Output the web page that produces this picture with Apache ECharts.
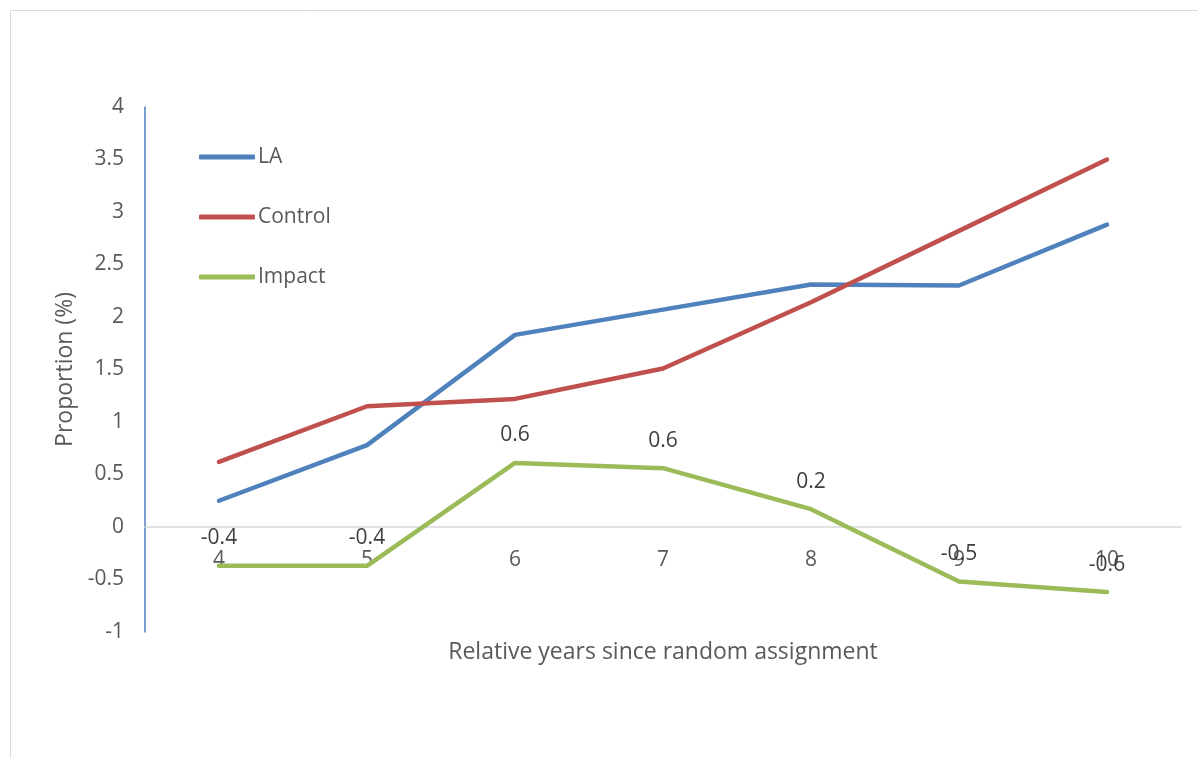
<!DOCTYPE html>
<html>
<head>
<meta charset="utf-8">
<script src="https://cdn.jsdelivr.net/npm/echarts@6/dist/echarts.min.js"></script>
<style>
  html, body { margin: 0; padding: 0; background: #fff; }
  #chart { width: 1198px; height: 758px; }
</style>
</head>
<body>
<div id="chart"></div>
<script>
// Years since random assignment
const years = ['4', '5', '6', '7', '8', '9', '10'];
// Proportion (%) by group
const laValues = [0.25, 0.78, 1.83, 2.07, 2.31, 2.30, 2.88];
const controlValues = [0.62, 1.15, 1.22, 1.51, 2.14, 2.82, 3.50];
const impactValues = [-0.37, -0.37, 0.61, 0.56, 0.17, -0.52, -0.62];
const seriesNames = ['LA', 'Control', 'Impact'];
const colors = ['#4f81bd', '#c0504d', '#9bbb59'];

const FONT = 'Open Sans';
const TEXT = '#595959';
const chart = echarts.init(document.getElementById('chart'), null, { renderer: 'canvas' });

function lineSeries(name, data, color, withLabels) {
  return {
    name: name,
    type: 'line',
    data: data,
    symbol: 'circle',
    symbolSize: 0,
    showSymbol: true,
    smooth: false,
    lineStyle: { color: color, width: 4.5, cap: 'round', join: 'round' },
    itemStyle: { color: color },
    label: withLabels ? {
      show: true,
      position: 'top',
      distance: 17,
      color: '#404040',
      fontFamily: FONT,
      fontSize: 21,
      formatter: p => Number(p.value).toFixed(1)
    } : { show: false },
    emphasis: { disabled: true },
    z: withLabels ? 3 : 2
  };
}

chart.setOption({
  animation: false,
  backgroundColor: '#ffffff',
  graphic: [{
    type: 'rect',
    shape: { x: 10.5, y: 10.5, width: 1200, height: 800 },
    style: { fill: 'none', stroke: '#d9d9d9', lineWidth: 1 },
    silent: true,
    z: -1
  }],
  grid: { left: 145, right: 17, top: 107, bottom: 126, containLabel: false, outerBoundsMode: 'none' },
  legend: {
    orient: 'vertical',
    left: 194,
    top: 140,
    data: seriesNames,
    icon: 'roundRect',
    itemWidth: 56,
    itemHeight: 5,
    itemGap: 36,
    textStyle: { color: TEXT, fontFamily: FONT, fontSize: 21, padding: [0, 0, 0, -2], height: 24, lineHeight: 24 }
  },
  xAxis: {
    type: 'category',
    data: years,
    boundaryGap: true,
    position: 'bottom',
    offset: -105,
    name: 'Relative years since random assignment',
    nameLocation: 'middle',
    nameGap: 114,
    nameTextStyle: { color: TEXT, fontFamily: FONT, fontSize: 23 },
    axisLine: { onZero: false, lineStyle: { color: '#d9d9d9', width: 1.5 } },
    axisTick: { show: false },
    axisLabel: { color: TEXT, fontFamily: FONT, fontSize: 21, margin: 23 },
    splitLine: { show: false }
  },
  yAxis: {
    type: 'value',
    min: -1,
    max: 4,
    interval: 0.5,
    name: 'Proportion (%)',
    nameLocation: 'middle',
    nameGap: 68,
    nameTextStyle: { color: TEXT, fontFamily: FONT, fontSize: 23 },
    axisLine: { show: true, lineStyle: { color: '#4f81bd', width: 1.5 } },
    axisTick: { show: false },
    axisLabel: { color: TEXT, fontFamily: FONT, fontSize: 21, margin: 21 },
    splitLine: { show: false }
  },
  series: [
    lineSeries(seriesNames[0], laValues, colors[0], false),
    lineSeries(seriesNames[1], controlValues, colors[1], false),
    lineSeries(seriesNames[2], impactValues, colors[2], true)
  ]
});
</script>
</body>
</html>
